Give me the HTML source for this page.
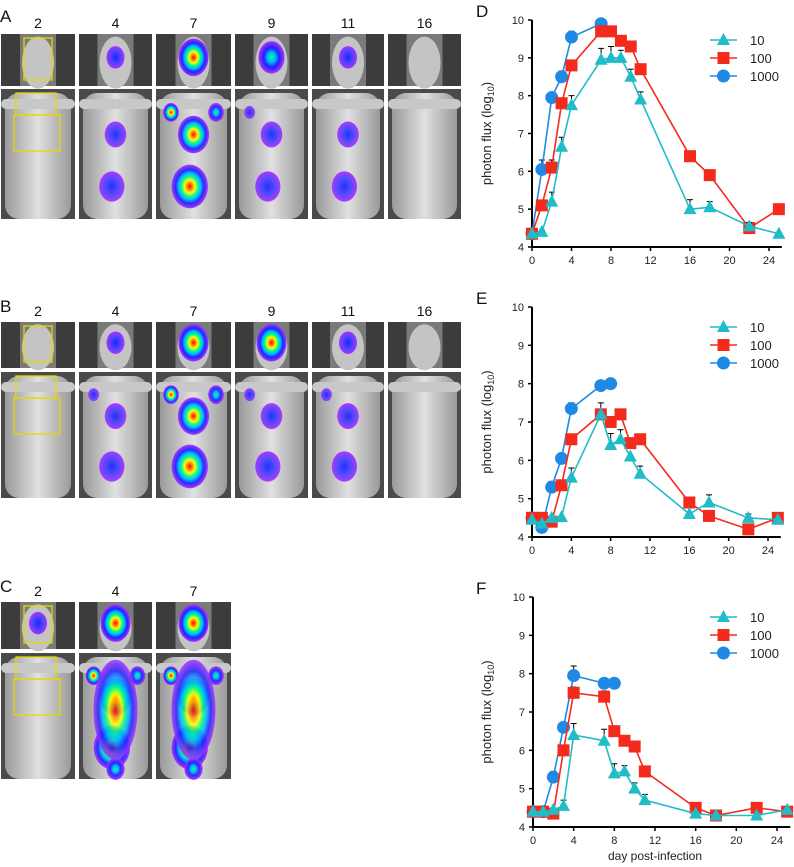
<!DOCTYPE html>
<html><head><meta charset="utf-8"><style>
html,body{margin:0;padding:0;background:#fff}
svg{display:block;font-family:"Liberation Sans",Arial,sans-serif}
</style></head><body>
<svg id="fig" width="794" height="867" viewBox="0 0 794 867" xmlns="http://www.w3.org/2000/svg">
<defs>
<radialGradient id="heat3"><stop offset="0" stop-color="#f00"/><stop offset="0.3" stop-color="#ff0"/><stop offset="0.45" stop-color="#0f8"/><stop offset="0.6" stop-color="#0bf"/><stop offset="0.78" stop-color="#22f"/><stop offset="1" stop-color="#a3f"/></radialGradient>
<radialGradient id="heat2"><stop offset="0" stop-color="#0f8"/><stop offset="0.3" stop-color="#0bf"/><stop offset="0.6" stop-color="#22f"/><stop offset="1" stop-color="#a3f"/></radialGradient>
<radialGradient id="heat1"><stop offset="0" stop-color="#22f"/><stop offset="0.5" stop-color="#44f"/><stop offset="1" stop-color="#a3f"/></radialGradient>
<linearGradient id="body" x1="0" x2="1"><stop offset="0" stop-color="#9a9a9a"/><stop offset="0.5" stop-color="#e0e0e0"/><stop offset="1" stop-color="#9a9a9a"/></linearGradient>
</defs>
<g id="images"></g>
<g id="charts"></g>
</svg>
<script>
// ---------- chart data ----------
const days10 = [0,1,2,3,4,7,8,9,10,11,16,18,22,25];
const days100 = [0,1,2,3,4,7,8,9,10,11,16,18,22,25];
const daysD1000 = [0,1,2,3,4,7];
const daysEF1000 = [0,1,2,3,4,7,8];
const D_10 = [4.35,4.4,5.2,6.65,7.75,8.95,9.0,9.0,8.5,7.9,5.0,5.05,4.55,4.35];
const D_10err = [0,0.05,0.25,0.25,0.25,0.3,0.3,0.2,0.2,0.2,0.25,0.15,0.1,0];
const D_100 = [4.35,5.1,6.1,7.8,8.8,9.7,9.7,9.45,9.3,8.7,6.4,5.9,4.5,5.0];
const D_100err = [0,0,0.2,0,0,0,0,0,0,0,0,0,0,0];
const D_1000 = [4.35,6.05,7.95,8.5,9.55,9.9];
const D_1000err = [0,0.25,0.1,0.15,0.15,0];
const E_10 = [4.45,4.35,4.5,4.52,5.55,7.2,6.4,6.55,6.1,5.65,4.6,4.9,4.5,4.45];
const E_10err = [0,0,0,0,0.25,0.3,0.3,0.25,0,0.2,0,0.2,0.1,0];
const E_100 = [4.5,4.5,4.4,5.35,6.55,7.2,7.0,7.2,6.45,6.55,4.9,4.55,4.2,4.5];
const E_100err = [0,0,0,0,0,0,0,0,0,0,0,0,0,0];
const E_1000 = [4.5,4.25,5.3,6.05,7.35,7.95,8.0];
const E_1000err = [0,0,0.15,0,0.15,0,0];
const F_10 = [4.4,4.4,4.45,4.55,6.4,6.25,5.4,5.45,5.0,4.7,4.35,4.3,4.3,4.45];
const F_10err = [0,0,0,0.15,0.3,0.3,0.25,0.15,0.15,0.15,0,0,0,0];
const F_100 = [4.4,4.4,4.35,6.0,7.5,7.4,6.5,6.25,6.1,5.45,4.5,4.3,4.5,4.4];
const F_100err = [0,0,0,0,0.15,0.15,0,0,0,0,0,0,0,0];
const F_1000 = [4.4,4.4,5.3,6.6,7.95,7.75,7.75];
const F_1000err = [0,0,0.15,0,0.25,0,0];
const yTicks = [4,5,6,7,8,9,10];
const xTicks = [0,4,8,12,16,20,24];
const legendLabels = ["10","100","1000"];

const NS="http://www.w3.org/2000/svg";
function mk(tag,attrs,parent){const e=document.createElementNS(NS,tag);for(const k in attrs)e.setAttribute(k,attrs[k]);if(parent)parent.appendChild(e);return e;}
const COL={c:"#20bcc8",r:"#f42a1c",b:"#1e8ae6"};

// ---------- image panels ----------
const imgs=document.getElementById('images');
const colX=[[1,75],[79,152],[156,231],[235,308],[312,384],[388,461]];
const panels=[
 {letter:"A",ly:14,labY:28,top:[34,86],bot:[89,219],days:["2","4","7","9","11","16"],lv:[0,1,3,2,1,0],bl:[0,1,3,2,1,0]},
 {letter:"B",ly:304,labY:316,top:[322,368],bot:[372,498],days:["2","4","7","9","11","16"],lv:[0,1,3,3,1,0],bl:[0,2,3,2,2,0]},
 {letter:"C",ly:584,labY:596,top:[602,649],bot:[653,779],days:["2","4","7"],lv:[1,3,3],bl:[0,4,4]}
];
panels.forEach((p,pi)=>{
  const g=mk('g',{},imgs);
  
  
  const L=mk('text',{x:0,y:p.ly+8,'font-size':17,fill:'#111'},g);L.textContent=p.letter;
  
  
  p.days.forEach((d,i)=>{
    const [x0,x1]=colX[i];const w=x1-x0,cx=(x0+x1)/2;
    const t=mk('text',{x:cx,y:p.labY,'font-size':14,'text-anchor':'middle',fill:'#111'},g);t.textContent=d;
    
    
    const th=p.top[1]-p.top[0];
    const tt=mk('g',{},g);
    
    
    mk('rect',{x:x0,y:p.top[0],width:w,height:th,fill:'#3c3c3c'},tt);
    mk('rect',{x:cx-18,y:p.top[0],width:36,height:th,fill:'#7a7a7a'},tt);
    mk('ellipse',{cx:cx,cy:p.top[0]+th*0.55,rx:16,ry:th*0.5,fill:'#c4c4c4'},tt);
    const lv=p.lv[i];
    if(lv>0){const rr=[0,9,13,15][lv];mk('ellipse',{cx:cx,cy:p.top[0]+th*0.45,rx:rr,ry:rr*1.25,fill:'url(#heat'+lv+')'},tt);}
    if(i==0) mk('rect',{x:cx-14,y:p.top[0]+4,width:28,height:th-10,fill:'none',stroke:'#e8d800','stroke-width':1.3},tt);
    const bh=p.bot[1]-p.bot[0];
    const bt=mk('g',{},g);
    
    
    mk('rect',{x:x0,y:p.bot[0],width:w,height:bh,fill:'#4a4a4a'},bt);
    mk('rect',{x:x0+4,y:p.bot[0]+4,width:w-8,height:bh-4,rx:14,fill:'url(#body)'},bt);
    mk('rect',{x:x0,y:p.bot[0]+10,width:w,height:10,rx:5,fill:'#c8c8c8'},bt);
    const b=p.bl[i];
    if(b>0){
      const spots=[[0.5,0.35,12],[0.45,0.75,14],[0.2,0.18,6],[0.8,0.18,6],[0.5,0.92,7],[0.75,0.7,7]];
      spots.slice(0,b+1).forEach((s,k)=>{const r=s[2]*(b>=3?1.3:0.9);mk('ellipse',{cx:x0+w*s[0],cy:p.bot[0]+bh*s[1],rx:r,ry:r*1.2,fill:'url(#heat'+Math.min(3,b>=3?(k<3?3:2):1)+')',opacity:0.95},bt);});
      if(b==4){mk('ellipse',{cx:cx,cy:p.bot[0]+bh*0.45,rx:22,ry:50,fill:'url(#heat3)',opacity:0.85},bt);}
    }
    if(i==0){mk('rect',{x:x0+15,y:p.bot[0]+4,width:40,height:22,fill:'none',stroke:'#e8d800','stroke-width':1.3},bt);
             mk('rect',{x:x0+13,y:p.bot[0]+26,width:46,height:36,fill:'none',stroke:'#e8d800','stroke-width':1.3},bt);}
  });
});

// ---------- charts ----------
const charts=document.getElementById('charts');
function chart(cfg){
  const g=mk('g',{},charts);
  
  
  const X=v=>cfg.x0+(cfg.x24-cfg.x0)*v/24;
  const Y=v=>cfg.yb+(cfg.yt-cfg.yb)*(v-4)/6;
  const L=mk('text',{x:476,y:cfg.yt-3,'font-size':17,fill:'#111'},g);L.textContent=cfg.letter;
  
  
  const ya=mk('line',{x1:X(0),y1:Y(10),x2:X(0),y2:Y(4),stroke:'#000','stroke-width':2},g);
  
  
  const xa=mk('line',{x1:X(0),y1:Y(4),x2:X(25.3),y2:Y(4),stroke:'#000','stroke-width':2},g);
  
  
  yTicks.forEach(v=>{mk('line',{x1:X(0)-4,y1:Y(v),x2:X(0),y2:Y(v),stroke:'#000','stroke-width':1.5},g);
    const t=mk('text',{x:X(0)-8,y:Y(v)+4,'font-size':11,'text-anchor':'end',fill:'#222'},g);t.textContent=v;
    
    });
  xTicks.forEach(v=>{mk('line',{x1:X(v),y1:Y(4),x2:X(v),y2:Y(4)+4,stroke:'#000','stroke-width':1.5},g);
    const t=mk('text',{x:X(v),y:Y(4)+17,'font-size':11,'text-anchor':'middle',fill:'#222'},g);t.textContent=v;
    
    });
  const yt=mk('text',{x:0,y:0,'font-size':13,'text-anchor':'middle',fill:'#222',transform:`translate(491,${(Y(4)+Y(10))/2}) rotate(-90)`},g);
  yt.innerHTML='photon flux (log<tspan font-size="9" dy="3">10</tspan><tspan dy="-3">)</tspan>';
  
  
  function marker(par,kind,x,y){
    if(kind=='c') return mk('polygon',{points:`${x},${y-7} ${x-6.5},${y+5} ${x+6.5},${y+5}`,fill:COL.c},par);
    if(kind=='r') return mk('rect',{x:x-6,y:y-6,width:12,height:12,fill:COL.r},par);
    return mk('circle',{cx:x,cy:y,r:6.5,fill:COL.b},par);
  }
  cfg.series.forEach(s=>{
    const sg=mk('g',{},g);
    
    
    s.days.forEach((d,i)=>{if(s.err[i]>0){mk('line',{x1:X(d),y1:Y(s.vals[i]),x2:X(d),y2:Y(s.vals[i]+s.err[i]),stroke:'#000','stroke-width':1},sg);
      mk('line',{x1:X(d)-3,y1:Y(s.vals[i]+s.err[i]),x2:X(d)+3,y2:Y(s.vals[i]+s.err[i]),stroke:'#000','stroke-width':1},sg);}});
    const ln=mk('polyline',{points:s.days.map((d,i)=>X(d)+','+Y(s.vals[i])).join(' '),fill:'none',stroke:COL[s.k],'stroke-width':1.6},sg);
    
    
    s.days.forEach((d,i)=>{const m=marker(sg,s.k,X(d),Y(s.vals[i]));
      
      });
  });
  const lg=mk('g',{},g);
  
  
  ['c','r','b'].forEach((k,i)=>{const yy=cfg.yt+20+18*i;
    const e=mk('g',{},lg);
    
    
    mk('line',{x1:710,y1:yy,x2:737,y2:yy,stroke:COL[k],'stroke-width':1.6},e);
    marker(e,k,723.5,yy);
    const t=mk('text',{x:750,y:yy+5,'font-size':13,fill:'#222'},e);t.textContent=legendLabels[i];});
}
chart({letter:'D',x0:532,x24:769,yt:20,yb:247,series:[
 {name:'1000',k:'b',days:daysD1000,vals:D_1000,err:D_1000err},
 {name:'100',k:'r',days:days100,vals:D_100,err:D_100err},
 {name:'10',k:'c',days:days10,vals:D_10,err:D_10err}]});
chart({letter:'E',x0:532,x24:768,yt:307,yb:537,series:[
 {name:'1000',k:'b',days:daysEF1000,vals:E_1000,err:E_1000err},
 {name:'100',k:'r',days:days100,vals:E_100,err:E_100err},
 {name:'10',k:'c',days:days10,vals:E_10,err:E_10err}]});
chart({letter:'F',x0:533,x24:777,yt:597,yb:827,series:[
 {name:'1000',k:'b',days:daysEF1000,vals:F_1000,err:F_1000err},
 {name:'100',k:'r',days:days100,vals:F_100,err:F_100err},
 {name:'10',k:'c',days:days10,vals:F_10,err:F_10err}]});
const xt=mk('text',{x:655,y:860,'font-size':12,'text-anchor':'middle',fill:'#222'},charts);
xt.textContent='day post-infection';


</script>
</body></html>
